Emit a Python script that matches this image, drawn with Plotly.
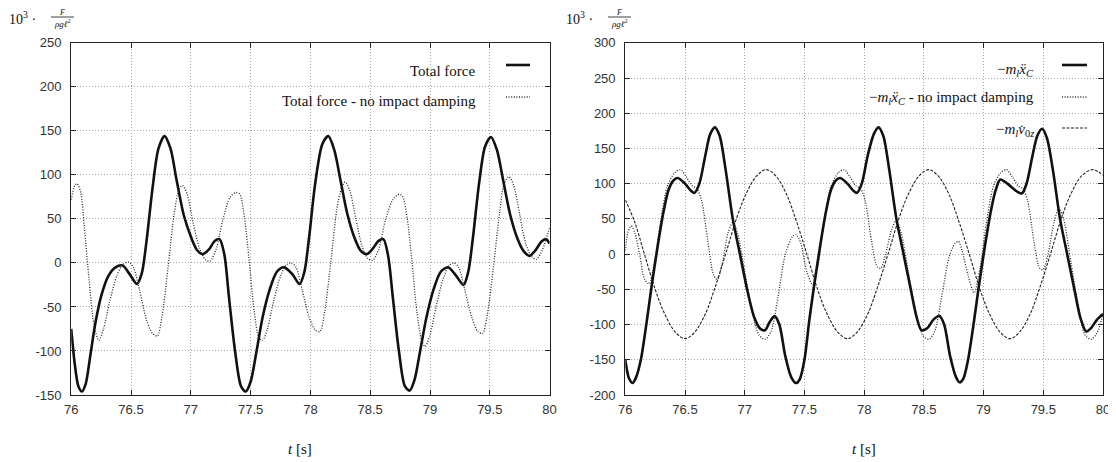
import plotly.graph_objects as go

# page body has an 8px margin -> figure fills the rest of the 1116x462 window
W, H = 1108, 454
OFF = 8

# ---------------- data ----------------
# Left panel: total force
tf_t = [76.00, 76.03, 76.06, 76.09, 76.12, 76.16, 76.20, 76.25, 76.31, 76.37, 76.43, 76.49, 76.55, 76.59,
        76.63, 76.68, 76.73, 76.78, 76.83, 76.88, 76.94, 77.00, 77.05, 77.10, 77.15, 77.20, 77.24, 77.28,
        77.32, 77.37, 77.42, 77.46, 77.50, 77.55, 77.60, 77.66, 77.72, 77.78, 77.85, 77.91, 77.95, 77.99,
        78.04, 78.10, 78.15, 78.20, 78.25, 78.31, 78.37, 78.42, 78.47, 78.52, 78.57, 78.61, 78.65, 78.69,
        78.74, 78.79, 78.83, 78.87, 78.92, 78.97, 79.03, 79.09, 79.15, 79.21, 79.28, 79.32, 79.36, 79.41,
        79.46, 79.51, 79.56, 79.61, 79.67, 79.73, 79.78, 79.83, 79.88, 79.93, 79.97, 80.00]
tf_v = [-75, -115, -140, -146, -138, -105, -70, -38, -15, -5, -3, -13, -24, -12,
        25, 85, 130, 144, 130, 95, 55, 30, 15, 10, 15, 25, 27, 10,
        -40, -100, -140, -146, -135, -100, -62, -30, -10, -5, -13, -24, -10, 30,
        90, 135, 144, 128, 95, 55, 28, 14, 10, 16, 25, 27, 8, -40,
        -100, -140, -145, -133, -98, -62, -30, -10, -5, -13, -25, -10, 30, 90,
        132, 143, 128, 95, 55, 28, 14, 8, 14, 24, 27, 22]

# Left panel: total force - no impact damping
tn_t = [76.00, 76.03, 76.05, 76.08, 76.11, 76.15, 76.19, 76.23, 76.27, 76.32, 76.38, 76.43, 76.48, 76.52,
        76.57, 76.63, 76.68, 76.72, 76.76, 76.81, 76.86, 76.90, 76.93, 76.97, 77.02, 77.07, 77.12, 77.16,
        77.21, 77.27, 77.33, 77.38, 77.41, 77.45, 77.49, 77.53, 77.57, 77.60, 77.64, 77.69, 77.75, 77.80,
        77.84, 77.88, 77.93, 77.99, 78.04, 78.08, 78.12, 78.17, 78.22, 78.26, 78.29, 78.33, 78.38, 78.43,
        78.48, 78.52, 78.57, 78.63, 78.69, 78.74, 78.77, 78.81, 78.85, 78.89, 78.93, 78.96, 79.00, 79.05,
        79.11, 79.16, 79.20, 79.24, 79.29, 79.35, 79.40, 79.44, 79.48, 79.53, 79.58, 79.62, 79.66, 79.70,
        79.75, 79.80, 79.85, 79.89, 79.94, 80.00]
tn_v = [72, 88, 90, 80, 40, -20, -70, -88, -75, -45, -15, -2, 1, -5,
        -30, -65, -80, -83, -60, -5, 55, 83, 88, 78, 45, 18, 4, 2,
        15, 50, 75, 80, 78, 50, 0, -55, -85, -88, -75, -45, -15, -2,
        0, -5, -30, -62, -76, -78, -55, 0, 60, 85, 92, 82, 50, 20,
        5, 3, 15, 50, 72, 78, 76, 50, 0, -55, -88, -95, -82, -50,
        -18, -3, 0, -5, -30, -62, -78, -80, -58, -5, 55, 90, 98, 88,
        55, 22, 7, 4, 15, 40]

# Right panel: -m_l x''_C
xc_t = [76.00, 76.03, 76.06, 76.09, 76.13, 76.18, 76.22, 76.27, 76.32, 76.36, 76.40, 76.44, 76.50, 76.55,
        76.58, 76.62, 76.67, 76.71, 76.75, 76.79, 76.84, 76.90, 76.96, 77.02, 77.08, 77.13, 77.17, 77.21,
        77.25, 77.29, 77.34, 77.39, 77.43, 77.46, 77.50, 77.54, 77.58, 77.63, 77.68, 77.72, 77.76, 77.80,
        77.86, 77.91, 77.94, 77.98, 78.03, 78.08, 78.12, 78.16, 78.21, 78.27, 78.33, 78.39, 78.44, 78.48,
        78.53, 78.58, 78.63, 78.67, 78.72, 78.77, 78.80, 78.83, 78.87, 78.92, 78.96, 79.01, 79.06, 79.10,
        79.14, 79.20, 79.27, 79.32, 79.36, 79.41, 79.45, 79.49, 79.53, 79.58, 79.64, 79.70, 79.76, 79.81,
        79.86, 79.90, 79.95, 80.00]
xc_v = [-150, -176, -183, -175, -150, -95, -46, 10, 60, 90, 104, 108, 100, 90,
        87, 100, 140, 170, 180, 168, 120, 50, 0, -50, -90, -106, -108, -96,
        -88, -100, -145, -175, -183, -178, -150, -95, -46, 10, 60, 90, 104, 108,
        100, 90, 87, 100, 140, 170, 180, 168, 120, 50, 0, -50, -90, -108,
        -105, -93, -88, -100, -145, -175, -182, -177, -150, -95, -46, 10, 60, 90,
        106, 100, 90, 86, 100, 140, 168, 178, 165, 120, 50, 0, -50, -90,
        -110, -105, -93, -85]

# Right panel: -m_l x''_C - no impact damping
xn_t = [76.00, 76.02, 76.05, 76.08, 76.12, 76.16, 76.20, 76.24, 76.29, 76.35, 76.41, 76.46, 76.51, 76.56,
        76.60, 76.64, 76.69, 76.74, 76.77, 76.81, 76.86, 76.90, 76.94, 77.00, 77.06, 77.12, 77.17, 77.22,
        77.28, 77.34, 77.40, 77.43, 77.47, 77.52, 77.57, 77.61, 77.66, 77.72, 77.78, 77.83, 77.88, 77.93,
        77.97, 78.01, 78.06, 78.11, 78.14, 78.18, 78.23, 78.27, 78.31, 78.37, 78.43, 78.49, 78.54, 78.59,
        78.65, 78.71, 78.76, 78.79, 78.82, 78.87, 78.92, 78.97, 79.02, 79.08, 79.14, 79.19, 79.24, 79.29,
        79.33, 79.37, 79.42, 79.47, 79.50, 79.54, 79.59, 79.63, 79.67, 79.73, 79.79, 79.85, 79.90, 79.95,
        80.00]
xn_v = [5, 30, 40, 30, 0, -35, -42, -15, 40, 95, 115, 120, 110, 97,
        93, 75, 20, -30, -36, -15, 30, 45, 30, -25, -80, -115, -121, -110,
        -60, 0, 25, 28, 15, -25, -44, -20, 40, 95, 115, 120, 110, 97,
        93, 75, 20, -18, -20, 0, 35, 48, 30, -25, -80, -115, -121, -110,
        -60, -5, 15, 18, 5, -30, -55, -20, 40, 95, 115, 120, 110, 97,
        93, 75, 20, -20, -22, 0, 45, 65, 50, -10, -70, -115, -121, -112,
        -85]

# Right panel: -m_l v'_0z
vd_t = [76.00, 76.08, 76.16, 76.25, 76.33, 76.42, 76.50, 76.58, 76.67, 76.75, 76.84, 76.93, 77.01, 77.10,
        77.18, 77.26, 77.35, 77.43, 77.52, 77.61, 77.69, 77.78, 77.86, 77.94, 78.03, 78.11, 78.20, 78.29,
        78.37, 78.46, 78.54, 78.62, 78.71, 78.79, 78.88, 78.97, 79.05, 79.14, 79.22, 79.30, 79.39, 79.47,
        79.56, 79.65, 79.73, 79.82, 79.91, 79.96, 80.00]
vd_v = [77, 45, 0, -50, -85, -111, -120, -111, -85, -48, 0, 50, 85, 111,
        120, 111, 85, 48, 0, -50, -85, -111, -120, -111, -85, -48, 0, 50,
        85, 111, 120, 111, 85, 48, 0, -50, -85, -111, -120, -111, -85, -48,
        0, 50, 85, 111, 120, 117, 112]

x_ticks = [76, 76.5, 77, 77.5, 78, 78.5, 79, 79.5, 80]
x_ticklabels = ["76", "76.5", "77", "77.5", "78", "78.5", "79", "79.5", "80"]
yl_ticks = [-150, -100, -50, 0, 50, 100, 150, 200, 250]
yr_ticks = [-200, -150, -100, -50, 0, 50, 100, 150, 200, 250, 300]

legend_left = ["Total force", "Total force - no impact damping"]
legend_right = ["−<i>m</i><sub><i>l</i></sub><i>ẍ</i><sub><i>C</i></sub>",
                "−<i>m</i><sub><i>l</i></sub><i>ẍ</i><sub><i>C</i></sub> - no impact damping",
                "−<i>m</i><sub><i>l</i></sub><i>v̇</i><sub>0<i>z</i></sub>"]

# ---------------- figure ----------------
def px(x):
    return (x - OFF) / W

def py(y):
    return 1 - (y - OFF) / H

LX0, LX1 = 71.2, 549.6
RX0, RX1 = 625.3, 1103.0
YT, YB = 42.8, 395.0

solid = dict(color="#111111", width=2.6)
dotted = dict(color="#2a2a2a", width=1.3, dash="1px,1.6px")
dashed = dict(color="#222222", width=1.1, dash="3px,1.5px")

fig = go.Figure()
fig.add_trace(go.Scatter(x=tf_t, y=tf_v, mode="lines", line=dict(shape="spline", smoothing=0.8, **solid),
                         xaxis="x", yaxis="y", showlegend=False))
fig.add_trace(go.Scatter(x=tn_t, y=tn_v, mode="lines", line=dict(shape="spline", smoothing=0.8, **dotted),
                         xaxis="x", yaxis="y", showlegend=False))
fig.add_trace(go.Scatter(x=vd_t, y=vd_v, mode="lines", line=dict(shape="spline", smoothing=1.0, **dashed),
                         xaxis="x2", yaxis="y2", showlegend=False))
fig.add_trace(go.Scatter(x=xn_t, y=xn_v, mode="lines", line=dict(shape="spline", smoothing=0.8, **dotted),
                         xaxis="x2", yaxis="y2", showlegend=False))
fig.add_trace(go.Scatter(x=xc_t, y=xc_v, mode="lines", line=dict(shape="spline", smoothing=0.8, **solid),
                         xaxis="x2", yaxis="y2", showlegend=False))

tickfont = dict(family="Liberation Sans, Arial, sans-serif", size=13, color="#333333")
common_x = dict(range=[76, 80], tickvals=x_ticks, ticktext=x_ticklabels, showgrid=True,
                gridcolor="#a8a8a8", griddash="1px,2px", gridwidth=1, showline=True, linecolor="#222222",
                linewidth=1.2, mirror="ticks", ticks="inside", ticklen=5, tickcolor="#222222",
                tickfont=tickfont, zeroline=False, ticklabelstandoff=2, automargin=False)
common_y = dict(showgrid=True, gridcolor="#a8a8a8", griddash="1px,2px", gridwidth=1, showline=True,
                linecolor="#222222", linewidth=1.2, mirror="ticks", ticks="inside", ticklen=5,
                tickcolor="#222222", tickfont=tickfont, zeroline=False, ticklabelstandoff=6, automargin=False)

fig.update_layout(
    width=W, height=H, margin=dict(l=0, r=0, t=0, b=0, autoexpand=False),
    paper_bgcolor="white", plot_bgcolor="white",
    xaxis=dict(domain=[px(LX0), px(LX1)], anchor="y", **common_x),
    yaxis=dict(domain=[py(YB), py(YT)], anchor="x", range=[-150, 250], tickvals=yl_ticks,
               ticktext=[str(v) for v in yl_ticks], **common_y),
    xaxis2=dict(domain=[px(RX0), px(RX1)], anchor="y2", **common_x),
    yaxis2=dict(domain=[py(YB), py(YT)], anchor="x2", range=[-200, 300], tickvals=yr_ticks,
                ticktext=[str(v) for v in yr_ticks], **common_y),
)

serif = "Liberation Serif, DejaVu Serif, serif"
ann = []
shapes = []


def text(x, y, s, size, xanchor="center"):
    ann.append(dict(x=px(x), y=py(y), xref="paper", yref="paper", showarrow=False, xanchor=xanchor,
                    yanchor="middle", text=s, borderpad=0,
                    font=dict(family=serif, size=size, color="#111")))


# axis titles
text(300, 449, "<i>t</i> [s]", 15)
text(864, 449, "<i>t</i> [s]", 15)

# y-axis label 10^3 * F/(rho g l^2)
for off in (0, 557):
    text(8 + off, 18, "10<sup>3</sup> ·", 14, xanchor="left")
    text(62 + off, 12.5, "<i>F</i>", 8)
    text(62 + off, 23.5, "<i>ρgℓ</i><sup>2</sup>", 9)
    shapes.append(dict(type="line", xref="paper", yref="paper", x0=px(51 + off), x1=px(74 + off),
                       y0=py(17), y1=py(17), line=dict(color="#111", width=0.8)))

# legends
left_keys = [(71, 65, solid), (101, 97, dotted)]
for s, (ty, ly, st) in zip(legend_left, left_keys):
    text(477, ty, s, 15, xanchor="right")
    shapes.append(dict(type="line", xref="paper", yref="paper", x0=px(506), x1=px(530), y0=py(ly), y1=py(ly),
                       line=st))
right_keys = [(70, 65, solid), (98, 97, dotted), (130, 128, dashed)]
for s, (ty, ly, st) in zip(legend_right, right_keys):
    text(1035, ty, s, 15, xanchor="right")
    shapes.append(dict(type="line", xref="paper", yref="paper", x0=px(1062), x1=px(1087), y0=py(ly), y1=py(ly),
                       line=st))

fig.update_layout(annotations=ann, shapes=shapes)
fig.write_html("out.html")
